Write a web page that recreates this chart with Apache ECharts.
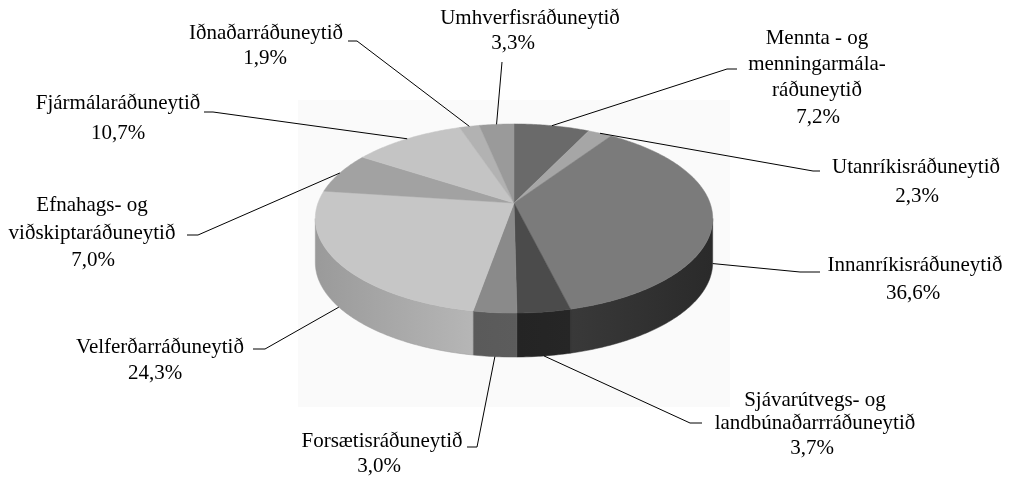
<!DOCTYPE html>
<html>
<head>
<meta charset="utf-8">
<script src="https://cdn.jsdelivr.net/npm/echarts@6/dist/echarts.min.js"></script>
<style>
  html, body { margin: 0; padding: 0; background: #ffffff; }
  #chart { width: 1011px; height: 478px; }
</style>
</head>
<body>
<div id="chart"></div>
<script>
// Ministries (clockwise from 12 o'clock) and their shares in percent
const categories = [
  'Mennta - og\nmenningarmála-\nráðuneytið',
  'Utanríkisráðuneytið',
  'Innanríkisráðuneytið',
  'Sjávarútvegs- og\nlandbúnaðarrráðuneytið',
  'Forsætisráðuneytið',
  'Velferðarráðuneytið',
  'Efnahags- og\nviðskiptaráðuneytið',
  'Fjármálaráðuneytið',
  'Iðnaðarráðuneytið',
  'Umhverfisráðuneytið'
];
const shares = [7.2, 2.3, 36.6, 3.7, 3.0, 24.3, 7.0, 10.7, 1.9, 3.3];

// Greys for the top face of each slice
const topColors = ['#6a6a6a', '#a6a6a6', '#7b7b7b', '#4b4b4b', '#8a8a8a',
                   '#c6c6c6', '#a2a2a2', '#c4c4c4', '#b2b2b2', '#9a9a9a'];
// Greys for the visible rim (left end, right end of the gradient)
const sideColors = [['#4a4a4a', '#4a4a4a'], ['#777777', '#777777'], ['#393939', '#2a2a2a'],
                    ['#242424', '#262626'], ['#5a5a5a', '#5c5c5c'], ['#9a9a9a', '#b6b6b6'],
                    ['#8a8a8a', '#8a8a8a'], ['#a0a0a0', '#a0a0a0'], ['#909090', '#909090'],
                    ['#7a7a7a', '#7a7a7a']];

// Label placement: name block centre/first-line centre, line height,
// percentage position, and the leader's bend + stub points
const labelLayout = [
  { nx: 817, ny: 38,  lh: 26, px: 818, py: 117, leader: [[727, 69], [737, 69]] },
  { nx: 916, ny: 167, lh: 28, px: 917, py: 196, leader: [[813, 171], [820, 171]] },
  { nx: 915, ny: 265, lh: 28, px: 913, py: 293, leader: [[800, 272], [820, 272]] },
  { nx: 815, ny: 400, lh: 23, px: 812, py: 448, leader: [[690, 423], [702, 423]] },
  { nx: 382, ny: 441, lh: 26, px: 379, py: 466, leader: [[477, 447], [467, 447]] },
  { nx: 160, ny: 347, lh: 26, px: 155, py: 373, leader: [[265, 349], [253, 349]] },
  { nx: 92,  ny: 205, lh: 28, px: 93,  py: 260, leader: [[198, 235], [187, 235]] },
  { nx: 118, ny: 103, lh: 28, px: 118, py: 133, leader: [[213, 112], [204, 112]] },
  { nx: 266, ny: 33,  lh: 28, px: 265, py: 58,  leader: [[357, 41], [348, 41]] },
  { nx: 530, ny: 18,  lh: 28, px: 513, py: 43,  leader: [[502, 62]] }
];

// Tilted-disc geometry with a little perspective
const CX = 514, CY = 203, RX = 196, RY = 92, PERSP = 0.164, DEPTH = 44;
const FONT_FAMILY = 'Liberation Serif';
const FONT_SIZE = 21;

const total = shares.reduce((a, b) => a + b, 0);
const starts = [];
shares.reduce((acc, v, i) => { starts[i] = acc; return acc + v; }, 0);

// angle measured clockwise from the back of the disc (12 o'clock)
function project(phi) {
  const X = Math.sin(phi), Z = -Math.cos(phi);
  const p = 1 / (1 - PERSP * Z);
  return [CX + RX * X * p, CY + RY * Z * p, Z];
}
function arc(a0, a1) {
  const n = Math.max(2, Math.ceil((a1 - a0) / (Math.PI / 240)));
  const pts = [];
  for (let k = 0; k <= n; k++) {
    const q = project(a0 + (a1 - a0) * k / n);
    pts.push([q[0], q[1]]);
  }
  return pts;
}
// silhouette angles where the rim turns away from the viewer
const SIL_R = Math.acos(-PERSP);
const SIL_L = 2 * Math.PI - SIL_R;

function fmtPct(v) { return v.toFixed(1).replace('.', ',') + '%'; }

function renderItem(params, api) {
  const i = params.dataIndex;
  const v = api.value(0);
  const a0 = starts[i] / total * 2 * Math.PI;
  const a1 = (starts[i] + v) / total * 2 * Math.PI;
  const children = [];

  // visible rim
  const sA = Math.max(a0, SIL_R), sB = Math.min(a1, SIL_L);
  if (sB > sA) {
    const top = arc(sA, sB);
    const bottom = top.map(p => [p[0], p[1] + DEPTH]).reverse();
    const xs = top.map(p => p[0]);
    const xl = Math.min.apply(null, xs), xr = Math.max.apply(null, xs);
    children.push({
      type: 'polygon', z2: 1,
      shape: { points: top.concat(bottom) },
      style: {
        fill: new echarts.graphic.LinearGradient(xl, 0, xr + 0.01, 0, [
          { offset: 0, color: sideColors[i][0] },
          { offset: 1, color: sideColors[i][1] }
        ], true),
        stroke: sideColors[i][0], lineWidth: 0.5
      }
    });
  }

  // top face
  children.push({
    type: 'polygon', z2: 2,
    shape: { points: [[CX, CY]].concat(arc(a0, a1)) },
    style: { fill: topColors[i], stroke: topColors[i], lineWidth: 0.5 }
  });

  // leader line from the slice's mid angle to the label
  const am = (a0 + a1) / 2;
  const m = project(am);
  const anchor = [m[0], m[1] + (m[2] > 0 ? DEPTH : 0)];
  const L = labelLayout[i];
  children.push({
    type: 'polyline', z2: 3,
    shape: { points: [anchor].concat(L.leader) },
    style: { stroke: '#000000', lineWidth: 1, fill: null }
  });

  // name and percentage
  children.push({
    type: 'text', z2: 4, x: L.nx, y: L.ny - L.lh / 2,
    style: { text: categories[i], fontFamily: FONT_FAMILY, fontSize: FONT_SIZE,
             fill: '#000000', align: 'center', verticalAlign: 'top', lineHeight: L.lh }
  });
  children.push({
    type: 'text', z2: 4, x: L.px, y: L.py,
    style: { text: fmtPct(v), fontFamily: FONT_FAMILY, fontSize: FONT_SIZE,
             fill: '#000000', align: 'center', verticalAlign: 'middle' }
  });

  return { type: 'group', children: children };
}

const chart = echarts.init(document.getElementById('chart'), null, { renderer: 'canvas' });
chart.setOption({
  animation: false,
  backgroundColor: '#ffffff',
  graphic: [{
    type: 'rect', z: -10,
    shape: { x: 298, y: 100, width: 432, height: 307 },
    style: { fill: '#fafafa' }
  }],
  series: [{
    type: 'custom',
    coordinateSystem: 'none',
    renderItem: renderItem,
    data: shares.map((v, i) => ({ name: categories[i], value: [v, i] }))
  }]
});
</script>
</body>
</html>
